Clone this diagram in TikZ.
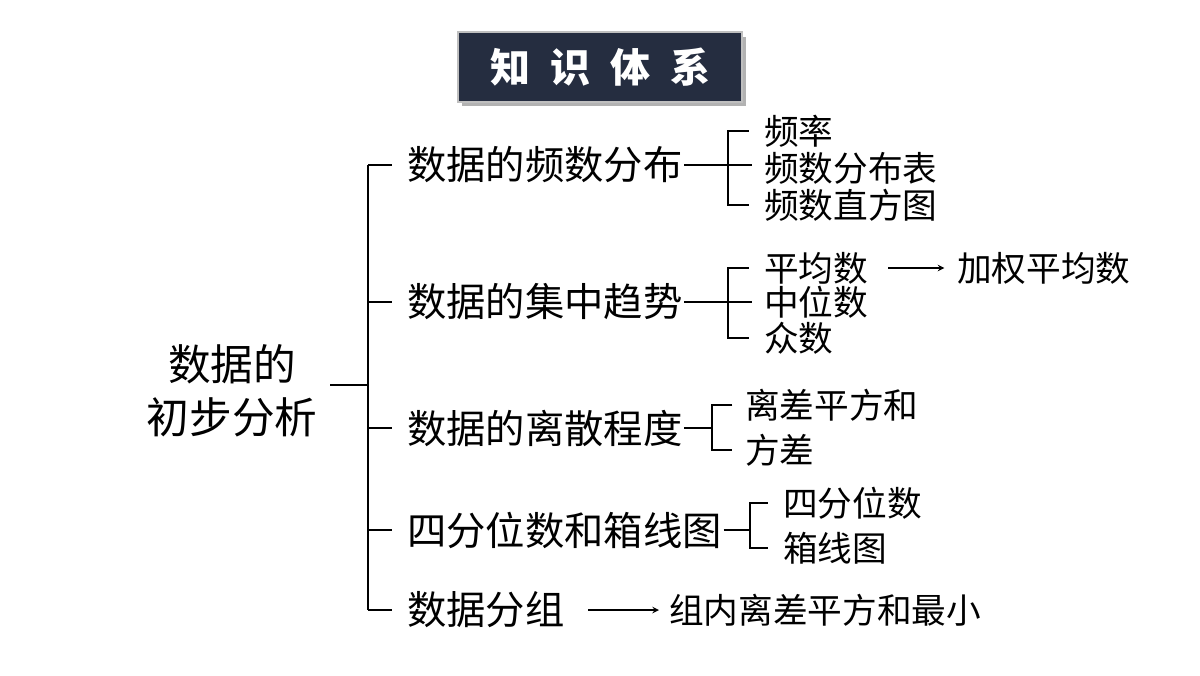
\documentclass[tikz,border=0pt]{standalone}
\usepackage{fontspec}
\newfontfamily\cjk{Noto Sans CJK SC}
\usetikzlibrary{positioning}
\tikzset{every picture/.style={line width=1.5pt}}
\tikzset{
  branch/.style={anchor=west,inner sep=0.75pt,font=\cjk\fontsize{29.5}{31}\selectfont},
  leaf/.style={anchor=west,inner sep=0.75pt,font=\cjk\fontsize{26}{28}\selectfont},
  arr/.style={->,>=stealth,line width=1.2pt}
}
\begin{document}
\begin{tikzpicture}[x=0.75pt,y=0.75pt,yscale=-1,xscale=1]
\useasboundingbox (0,0) rectangle (1200,675);
\fill[white] (0,0) rectangle (1200,675);

%Title
\fill[gray!60] (462,37) rectangle (746,106);
\node (title) [fill={rgb,255:red,37;green,45;blue,64},draw=gray!50,line width=1.5pt,minimum width=213pt,minimum height=52pt,inner sep=0pt,text=white,font=\cjk\bfseries\fontsize{30}{32}\selectfont] at (600,67) {知\,\,\,识\,\,\,体\,\,\,系};

%Root
\node (root) [align=center,font=\cjk\fontsize{32}{40}\selectfont] at (232,391) {数据的\\初步分析};
\coordinate (rt) at (330,385);
\coordinate (rb) at (368,385);
\draw (rt) -- (rb);
\draw (368,165) -- (368,610);

%Branches
\node (b1) [branch] at (405,165) {数据的频数分布};
\node (b2) [branch] at (405,302) {数据的集中趋势};
\node (b3) [branch] at (405,428) {数据的离散程度};
\node (b4) [branch] at (405,530) {四分位数和箱线图};
\node (b5) [branch] at (405,610) {数据分组};
\foreach \n in {b1,b2,b3,b4,b5}
  \draw (368,0 |- \n.west) -- ([xshift=-10]\n.west);

%Leaves of b1
\node (l11) [leaf] at (762,131) {频率};
\node (l12) [leaf] at (762,168) {频数分布表};
\node (l13) [leaf] at (762,205) {频数直方图};
\draw (b1.east) -- (752,0 |- b1.east);
\draw ([xshift=-10]l11.west) -| (728,0 |- l13.west) -- ([xshift=-10]l13.west);

%Leaves of b2
\node (l21) [leaf] at (762,268) {平均数};
\node (l22) [leaf] at (762,302) {中位数};
\node (l23) [leaf] at (762,338) {众数};
\draw (b2.east) -- (752,0 |- b2.east);
\draw ([xshift=-10]l21.west) -| (728,0 |- l23.west) -- ([xshift=-10]l23.west);
\node (l24) [leaf] at (955,268) {加权平均数};
\draw [arr] (888,268) -- ([xshift=-8]l24.west);

%Leaves of b3
\node (l31) [leaf] at (743,405) {离差平方和};
\node (l32) [leaf] at (743,450) {方差};
\draw (b3.east) -- (712,0 |- b3.east);
\draw ([xshift=-8]l31.west) -| (712,0 |- l32.west) -- ([xshift=-8]l32.west);

%Leaves of b4
\node (l41) [leaf] at (781,503) {四分位数};
\node (l42) [leaf] at (781,548) {箱线图};
\draw (b4.east) -- (750,0 |- b4.east);
\draw ([xshift=-10]l41.west) -| (750,0 |- l42.west) -- ([xshift=-10]l42.west);

%Leaf of b5
\node (l51) [leaf] at (667,610) {组内离差平方和最小};
\draw [arr] (588,610) -- ([xshift=-6]l51.west);
\end{tikzpicture}
\end{document}
